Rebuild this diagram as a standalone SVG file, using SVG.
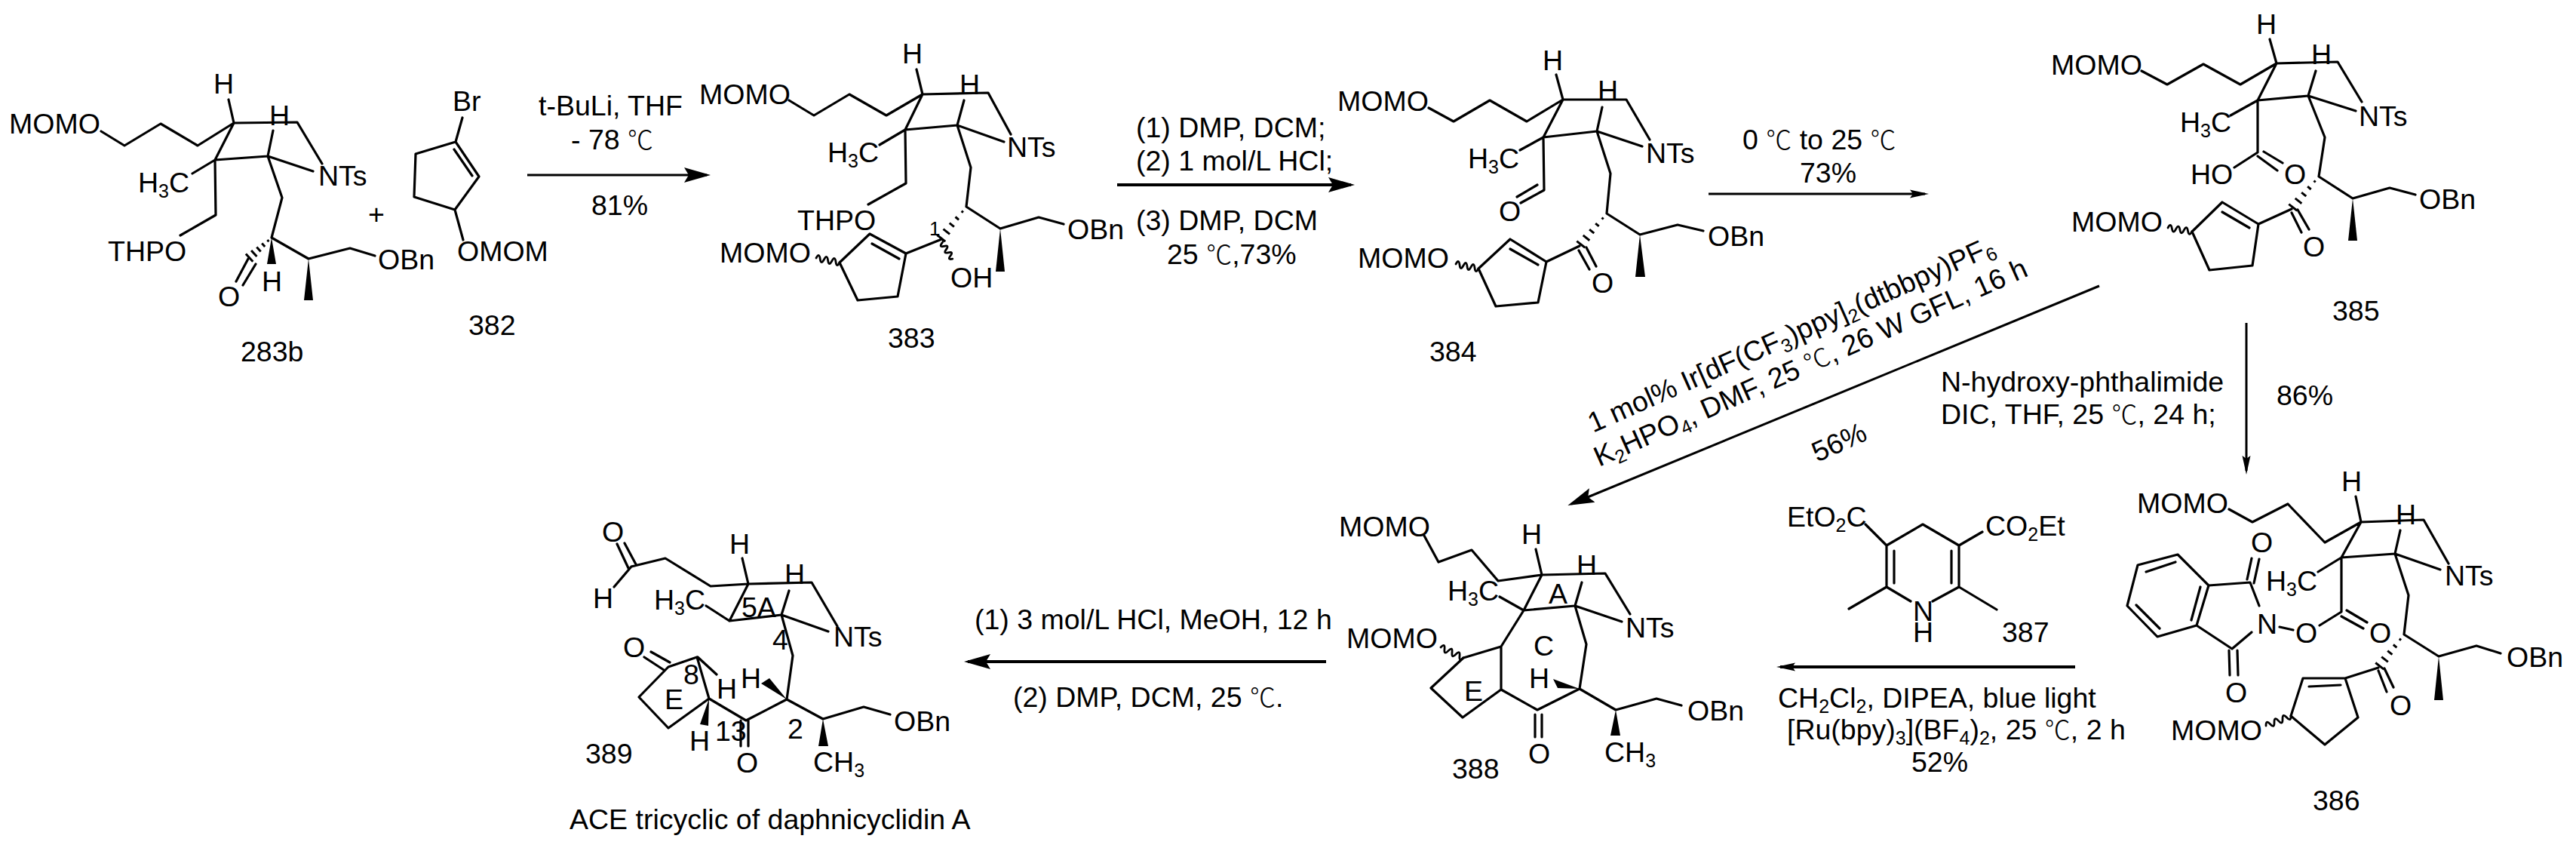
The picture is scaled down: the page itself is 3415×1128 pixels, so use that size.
<svg xmlns="http://www.w3.org/2000/svg" width="3415" height="1128" viewBox="0 0 3415 1128">
<style>
text{font-family:"Liberation Sans","Noto Sans CJK SC",sans-serif;font-size:37.5px;fill:#000}
.s{font-size:25px}
.c{font-family:"Noto Sans CJK SC","Liberation Sans",sans-serif;font-size:34px;font-weight:300}
.b{fill:none;stroke:#000;stroke-width:3.2;stroke-linejoin:round;stroke-linecap:round}
.v{fill:none;stroke:#000;stroke-width:2.8;stroke-linecap:round}
.h{fill:none;stroke:#000;stroke-width:3}
.w{fill:#000}
.a{fill:none;stroke:#000;stroke-width:3}
.t{stroke-width:4}
.m{text-anchor:middle}
</style>
<defs>
<marker id="L" markerUnits="userSpaceOnUse" markerWidth="36" markerHeight="22" refX="30" refY="11" orient="auto"><path d="M0 1L35 11L0 21L6 11z"/></marker>
<marker id="S" markerUnits="userSpaceOnUse" markerWidth="26" markerHeight="12" refX="20" refY="6" orient="auto"><path d="M0 0.5L25 6L0 11.5L4 6z"/></marker>
</defs>
<rect width="3415" height="1128" fill="#fff"/>

<g id="connectors">
<path class="a" d="M699 232H937" marker-end="url(#L)"/>
<path class="a t" d="M1481 245H1791" marker-end="url(#L)"/>
<path class="a" d="M2265 257H2552" marker-end="url(#S)"/>
<path class="a" d="M2978 428V624" marker-end="url(#S)"/>
<path class="a" d="M2783 379L2083 668" marker-end="url(#L)"/>
<path class="a t" d="M2751 884H2360" marker-end="url(#S)"/>
<path class="a t" d="M1758 877H1283" marker-end="url(#L)"/>
</g>

<g id="reagents">
<text x="714" y="153">t-BuLi, THF</text>
<text x="757" y="198">- 78 <tspan class="c">℃</tspan></text>
<text x="784" y="285">81%</text>
<text x="1506" y="182">(1) DMP, DCM;</text>
<text x="1506" y="226">(2) 1 mol/L HCl;</text>
<text x="1506" y="305">(3) DMP, DCM</text>
<text x="1547" y="350">25 <tspan class="c">℃</tspan>,73%</text>
<text x="2310" y="198">0 <tspan class="c">℃</tspan> to 25 <tspan class="c">℃</tspan></text>
<text x="2386" y="242">73%</text>
<text x="2573" y="519">N-hydroxy-phthalimide</text>
<text x="2573" y="562">DIC, THF, 25 <tspan class="c">℃</tspan>, 24 h;</text>
<text x="3018" y="537">86%</text>
<text transform="translate(2112 574) rotate(-24)">1 mol% Ir[dF(CF<tspan class="s" dy="7">3</tspan><tspan dy="-7">)ppy]</tspan><tspan class="s" dy="7">2</tspan><tspan dy="-7">(dtbbpy)PF</tspan><tspan class="s" dy="7">6</tspan></text>
<text transform="translate(2120 619) rotate(-24)">K<tspan class="s" dy="7">2</tspan><tspan dy="-7">HPO</tspan><tspan class="s" dy="7">4</tspan><tspan dy="-7">, DMF, 25 </tspan><tspan class="c">℃</tspan>, 26 W GFL, 16 h</text>
<text transform="translate(2409 613) rotate(-24)">56%</text>
<text x="2357" y="938">CH<tspan class="s" dy="7">2</tspan><tspan dy="-7">Cl</tspan><tspan class="s" dy="7">2</tspan><tspan dy="-7">, DIPEA, blue light</tspan></text>
<text x="2369" y="980">[Ru(bpy)<tspan class="s" dy="7">3</tspan><tspan dy="-7">](BF</tspan><tspan class="s" dy="7">4</tspan><tspan dy="-7">)</tspan><tspan class="s" dy="7">2</tspan><tspan dy="-7">, 25 </tspan><tspan class="c">℃</tspan>, 2 h</text>
<text x="2534" y="1023">52%</text>
<text x="1292" y="834">(1) 3 mol/L HCl, MeOH, 12 h</text>
<text x="1343" y="937">(2) DMP, DCM, 25 <tspan class="c">℃</tspan>.</text>
<text x="499" y="297" class="m">+</text>
</g>

<g id="n283b">
<path class="b" d="M134 174L165 193L213 164L262 193L310 163L394 162L427 217M310 163L303 132M362 173L355 207M310 163L285 212L355 207L415 227M355 207L374 262L360 315L409 343L464 329L497 339M285 212L255 230M285 212L286 285L239 312M329 343L313 373M339 350L322 378"/>
<path class="w" d="M409 343L403 398H415ZM360 315L354 350H366Z"/>
<path class="h" d="M354.400 318.100L356.400 320.300M347.200 322.600L351.200 327M340.300 327.400L345.700 333.400M333.100 331.900L340.500 340.100M325.900 336.400L335.300 346.800"/>
<text x="12" y="177">MOMO</text>
<text x="283" y="124">H</text>
<text x="357" y="166">H</text>
<text x="422" y="246">NTs</text>
<text x="183" y="255">H<tspan class="s" dy="7">3</tspan><tspan dy="-7">C</tspan></text>
<text x="143" y="346">THPO</text>
<text x="501" y="357">OBn</text>
<text x="347" y="386">H</text>
<text x="289" y="406">O</text>
<text x="319" y="479">283b</text>
</g>

<g id="n382">
<path class="b" d="M613 156L604 188M604 188L551 204L549 261L603 278L635 234ZM602 198L626 233M603 278L614 318"/>
<text x="600" y="147">Br</text>
<text x="606" y="346">OMOM</text>
<text x="621" y="444">382</text>
</g>

<g id="n383">
<path class="b" d="M1046 133L1079 153L1126 125L1175 153L1223 125L1310 123L1340 178M1223 125L1215 92M1278 133L1269 166M1223 125L1200 172L1269 166L1331 188M1269 166L1287 222L1281 274L1326 303L1377 288L1410 297M1200 172L1166 192M1200 172L1201 243L1151 271M1153 310L1201 336L1190 393L1137 398L1113 348ZM1156 323L1192 343M1201 336L1246 318"/>
<path class="v" d="M1246 318q7.200 -1.800 2.800 4.200t2.800 4.200t2.800 4.200t2.800 4.200t2.800 4.200t2.800 4.200"/>
<path class="v" d="M1082 342q4.100 -7.500 5.200 1t5.200 1t5.200 1t5.200 1t5.200 1t5 1"/>
<path class="w" d="M1326 303L1320 360H1332Z"/>
<path class="h" d="M1274.600 279.700L1277 281.500M1266.500 287.500L1271.100 291.300M1258.700 295.700L1264.900 300.700M1250.500 303.600L1259.100 310.400M1242.300 311.500L1253.300 320.100"/>
<text x="927" y="138">MOMO</text>
<text x="1196" y="84">H</text>
<text x="1272" y="125">H</text>
<text x="1335" y="208">NTs</text>
<text x="1097" y="215">H<tspan class="s" dy="7">3</tspan><tspan dy="-7">C</tspan></text>
<text x="1057" y="305">THPO</text>
<text x="1415" y="317">OBn</text>
<text x="1260" y="381">OH</text>
<text x="954" y="348">MOMO</text>
<text x="1232" y="312" style="font-size:26px">1</text>
<text x="1177" y="461">383</text>
</g>

<g id="n384">
<path class="b" d="M1894 143L1927 161L1975 133L2024 161L2072 132L2156 132L2187 185M2072 132L2063 99M2124 142L2117 174M2072 132L2046 182L2117 174L2177 194M2117 174L2135 230L2130 283L2174 311L2224 298L2258 306M2046 182L2015 199M2046 182L2047 252L2016 269M2038 245L2011 261M2002 317L2050 347L2039 401L1983 406L1960 356ZM2002 330L2039 351M2050 347L2094 326M2093 332L2107 357M2103 328L2116 353"/>
<path class="v" d="M1930 350q4 -7.500 5 1t5 1t5 1t5 1t5 1t5 1"/>
<path class="w" d="M2174 311L2168 367H2181Z"/>
<path class="h" d="M2123.400 288.600L2125.800 290.400M2115.100 296.100L2119.700 299.900M2107.100 304.200L2113.300 309.200M2098.700 311.900L2107.300 318.700M2090.300 319.600L2101.300 328.200"/>
<text x="1773" y="147">MOMO</text>
<text x="2045" y="93">H</text>
<text x="2118" y="133">H</text>
<text x="2182" y="216">NTs</text>
<text x="1946" y="223">H<tspan class="s" dy="7">3</tspan><tspan dy="-7">C</tspan></text>
<text x="1987" y="293">O</text>
<text x="2264" y="326">OBn</text>
<text x="1800" y="355">MOMO</text>
<text x="2110" y="388">O</text>
<text x="1895" y="479">384</text>
</g>

<g id="n385">
<path class="b" d="M2839 94L2873 112L2921 85L2970 112L3018 84L3099 82L3131 135M3018 84L3009 52M3070 94L3060 127M3018 84L2993 133L3060 127L3123 147M3060 127L3082 182L3074 234L3119 263L3168 249L3202 258M2993 133L2957 153M2993 133V202L2962 222M2993 207L3019 226M3001 201L3026 216M2946 268L2994 297L2986 352L2929 358L2906 307ZM2946 281L2982 302M2994 297L3038 277M3038 282L3051 308M3046 278L3061 304"/>
<path class="v" d="M2874 302q3.800 -7.500 5.300 .8t5.300 .8t5.300 .8t5.300 .8t5.300 .8t5.300 .8"/>
<path class="w" d="M3119 263L3113 319H3125Z"/>
<path class="h" d="M3067.400 239.600L3069.800 241.400M3059.100 247.200L3063.700 251M3051.100 255.200L3057.300 260.200M3042.700 262.900L3051.300 269.700M3034.300 270.600L3045.300 279.200"/>
<text x="2719" y="99">MOMO</text>
<text x="2991" y="45">H</text>
<text x="3064" y="85">H</text>
<text x="3127" y="167">NTs</text>
<text x="2890" y="175">H<tspan class="s" dy="7">3</tspan><tspan dy="-7">C</tspan></text>
<text x="2904" y="244">HO</text>
<text x="3028" y="244">O</text>
<text x="3207" y="277">OBn</text>
<text x="2746" y="307">MOMO</text>
<text x="3053" y="340">O</text>
<text x="3092" y="425">385</text>
</g>

<g id="n386">
<path class="b" d="M2955 675L2986 692L3033 668L3082 719L3130 692L3213 689L3246 747M3130 692L3123 658M3182 703L3175 734M3130 692L3104 739L3175 734L3235 755M3175 734L3193 789L3187 841L3233 870L3283 856L3315 866M3104 739L3073 758M3104 739V811L3075 829M3022 831L3040 835M3104 817L3133 833M3111 809L3138 825M2887 735L2834 749L2820 803L2860 844L2912 829L2928 776ZM2884 745L2845 758M2832 802L2863 833M2917 778L2905 822M2928 776L2983 772L2995 803M2912 829L2959 860L2985 838M2979 768L2985 740M2988 773L2995 741M2955 862L2956 895M2966 862L2967 895M3109 899L3053 899L3037 949L3082 987L3126 951ZM3061 910L3103 908M3109 899L3153 885M3153 889L3164 917M3161 886L3173 911"/>
<path class="v" d="M3004 962q-.2 -8.500 5.500 -2.200t5.500 -2.200t5.500 -2.200t5.500 -2.200t5.500 -2.200t5.500 -2.200"/>
<path class="w" d="M3233 870L3227 928H3239Z"/>
<path class="h" d="M3180.700 846.700L3183.100 848.500M3172.800 854.500L3177.400 858.300M3165.200 862.700L3171.400 867.700M3157.200 870.600L3165.800 877.400M3149.200 878.500L3160.200 887.100"/>
<text x="2833" y="680">MOMO</text>
<text x="3104" y="651">H</text>
<text x="3176" y="695">H</text>
<text x="2984" y="732">O</text>
<text x="3241" y="776">NTs</text>
<text x="3004" y="783">H<tspan class="s" dy="7">3</tspan><tspan dy="-7">C</tspan></text>
<text x="2992" y="840">N</text>
<text x="3043" y="852">O</text>
<text x="3141" y="852">O</text>
<text x="3323" y="884">OBn</text>
<text x="2950" y="931">O</text>
<text x="3168" y="948">O</text>
<text x="2878" y="981">MOMO</text>
<text x="3066" y="1074">386</text>
</g>

<g id="n387">
<path class="b" d="M2473 695L2501 723L2549 695L2597 723V778M2501 723V778M2511 730V773M2587 730V773M2628 705L2597 723M2501 778L2451 807M2501 778L2533 797M2597 778L2647 808M2597 778L2562 797"/>
<text x="2369" y="698">EtO<tspan class="s" dy="7">2</tspan><tspan dy="-7">C</tspan></text>
<text x="2632" y="710">CO<tspan class="s" dy="7">2</tspan><tspan dy="-7">Et</tspan></text>
<text x="2536" y="823">N</text>
<text x="2536" y="851">H</text>
<text x="2654" y="851">387</text>
</g>

<g id="n388">
<path class="b" d="M1888 710L1907 745L1951 729L1986 770L2044 762L2128 760L2161 814M2044 762L2036 728M2097 772L2088 803M2044 762L2020 809L2088 803L2150 824M2088 803L2103 854L2094 913L2142 941L2196 926L2229 935M2020 809L1988 791M2020 809L1990 857V914L2038 941L2094 913M2035 947V977M2044 947V977M1990 857L1940 872L1897 912L1939 951L1990 914"/>
<path class="v" d="M1910 858q5.900 -6.100 5 2.300t5 2.300t5 2.300t5 2.300t5 2.300t5 2.300"/>
<path class="w" d="M2142 941L2135 975H2148ZM2094 913L2059 900L2065 912Z"/>
<text x="1775" y="711">MOMO</text>
<text x="2017" y="721">H</text>
<text x="2090" y="762">H</text>
<text x="1919" y="796">H<tspan class="s" dy="7">3</tspan><tspan dy="-7">C</tspan></text>
<text x="2053" y="800">A</text>
<text x="2155" y="845">NTs</text>
<text x="1785" y="859">MOMO</text>
<text x="2033" y="869">C</text>
<text x="2027" y="912">H</text>
<text x="1941" y="929">E</text>
<text x="2237" y="955">OBn</text>
<text x="2127" y="1010">CH<tspan class="s" dy="7">3</tspan></text>
<text x="2026" y="1012">O</text>
<text x="1925" y="1032">388</text>
</g>

<g id="n389">
<path class="b" d="M818 721L833 753M828 720L843 748M837 751L814 778M837 751L882 740L942 777L992 774L1076 772L1110 830M992 774L984 740M1046 783L1036 815M992 774L967 823L1036 815L1098 837M1036 815L1051 869L1043 927L1091 953L1145 937L1180 947M967 823L936 803M925 871L950 894M886 884L924 871L940 926L886 965L847 924ZM854 871L880 888M863 864L888 878M940 926L989 955L1043 927M982 955V989M992 955V989"/>
<path class="w" d="M1091 953L1085 989H1098ZM1043 927L1009 906L1020 899ZM940 926L928 960L939 962Z"/>
<text x="798" y="718">O</text>
<text x="967" y="734">H</text>
<text x="1040" y="774">H</text>
<text x="786" y="806">H</text>
<text x="867" y="808">H<tspan class="s" dy="7">3</tspan><tspan dy="-7">C</tspan></text>
<text x="983" y="818">5A</text>
<text x="1024" y="861">4</text>
<text x="1105" y="857">NTs</text>
<text x="826" y="871">O</text>
<text x="906" y="907">8</text>
<text x="982" y="912">H</text>
<text x="950" y="926">H</text>
<text x="881" y="940">E</text>
<text x="1185" y="969">OBn</text>
<text x="1044" y="979">2</text>
<text x="948" y="982">13</text>
<text x="914" y="995">H</text>
<text x="776" y="1012">389</text>
<text x="1078" y="1023">CH<tspan class="s" dy="7">3</tspan></text>
<text x="976" y="1024">O</text>
<text x="755" y="1099">ACE tricyclic of daphnicyclidin A</text>
</g>
</svg>
